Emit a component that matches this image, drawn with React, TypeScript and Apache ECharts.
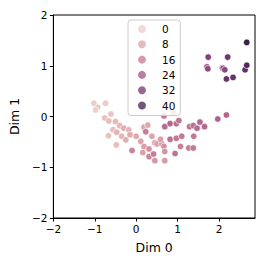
import React, { useEffect, useRef } from "react";
import * as echarts from "echarts";

const dim0 = [
  -1.02, -0.93, -0.98, -0.74, -0.76, -0.61, -0.66, -0.67, -0.5, -0.56, -0.4, -0.47, -0.48, -0.35, -0.3, -0.25,
  -0.18, -0.15, 0.0, -0.1, 0.11, 0.16, 0.19, 0.19, 0.28, 0.23, 0.38, 0.31, 0.31, 0.42, 0.45, 0.45, 0.5, 0.62,
  0.59, 0.67, 0.69, 0.67, 0.69, 0.69, 0.82, 0.82, 0.9, 0.97, 0.97, 0.94, 1.03, 1.07, 1.1, 1.29, 1.27, 1.38,
  1.38, 1.39, 1.47, 1.54, 1.65, 1.97, 2.18,
  1.71, 2.08, 1.74, 1.73, 2.21, 2.1, 2.14, 2.18, 2.34, 2.63, 2.67, 2.67,
];
const dim1 = [
  0.26, 0.18, 0.13, 0.26, -0.03, 0.05, -0.09, -0.38, -0.1, -0.26, -0.18, -0.31, -0.56, -0.39, -0.23, -0.46,
  -0.26, -0.36, -0.39, -0.67, -0.49, -0.71, -0.59, -0.21, -0.17, -0.3, -0.39, -0.64, -0.79, -0.74, -0.87, -0.52,
  -0.54, -0.54, -0.45, 0.01, -0.2, -0.59, -0.69, -0.87, -0.14, -0.45, 0.08, -0.14, -0.43, -0.73, -0.08, -0.59,
  -0.39, -0.2, -0.62, -0.62, -0.18, -0.39, -0.23, -0.11, -0.2, -0.05, 0.03,
  0.98, 0.96, 1.17, 0.94, 1.17, 0.95, 0.92, 0.74, 0.77, 0.92, 1.46, 1.01,
];
const hue = [
  1, 2, 0, 1, 3, 2, 4, 3, 5, 4, 5, 6, 4, 6, 7, 7,
  6, 8, 8, 16, 9, 10, 10, 9, 8, 17, 9, 13, 15, 17, 12, 9,
  10, 11, 10, 18, 21, 13, 12, 11, 22, 20, 8, 20, 18, 19, 19, 16,
  18, 19, 17, 18, 20, 18, 21, 22, 22, 23, 22,
  24, 22, 32, 30, 36, 26, 30, 37, 37, 38, 46, 40,
];
const legendLabels = ["0", "8", "16", "24", "32", "40"];
const legendColors = ["#edd1cb", "#e0aaad", "#ca8199", "#a95e8d", "#814279", "#512b5c"];
const rampColors = ["#edd1cb", "#e0aaad", "#ca8199", "#a95e8d", "#814279", "#512b5c", "#2d1e3e"];
const xTicks = [-2, -1, 0, 1, 2];
const yTicks = [-2, -1, 0, 1, 2];

const FONT = "DejaVu Sans";

export default function App() {
  const ref = useRef<HTMLDivElement>(null);
  useEffect(() => {
    const chart = echarts.init(ref.current!, null, { renderer: "svg" });
    const points = dim0.map((x, i) => [x, dim1[i], hue[i]]);
    const fmt = (v: number) => String(v).replace("-", "\u2212");
    chart.setOption({
      animation: false,
      backgroundColor: "#ffffff",
      grid: {
        left: 52,
        right: 11,
        top: 15,
        bottom: 48,
        show: true,
        borderColor: "#000000",
        borderWidth: 1,
        backgroundColor: "transparent",
      },
      xAxis: {
        type: "value",
        min: -2,
        max: 2.87,
        interval: 1,
        name: "Dim 0",
        nameLocation: "middle",
        nameGap: 23,
        nameTextStyle: { fontFamily: FONT, fontSize: 12.5, color: "#000" },
        axisLine: { show: true, onZero: false, lineStyle: { color: "#000", width: 1 } },
        axisTick: { show: true, length: 3.5, customValues: xTicks, lineStyle: { color: "#000" } },
        axisLabel: {
          customValues: xTicks,
          formatter: fmt,
          margin: 5,
          fontFamily: FONT,
          fontSize: 10.5,
          color: "#000",
        },
        splitLine: { show: false },
      },
      yAxis: {
        type: "value",
        min: -2,
        max: 2,
        interval: 1,
        name: "Dim 1",
        nameLocation: "middle",
        nameGap: 25,
        nameTextStyle: { fontFamily: FONT, fontSize: 12.5, color: "#000" },
        axisLine: { show: true, onZero: false, lineStyle: { color: "#000", width: 1 } },
        axisTick: { show: true, length: 3.5, customValues: yTicks, lineStyle: { color: "#000" } },
        axisLabel: {
          customValues: yTicks,
          formatter: fmt,
          margin: 6,
          fontFamily: FONT,
          fontSize: 10.5,
          color: "#000",
        },
        splitLine: { show: false },
      },
      visualMap: {
        show: false,
        type: "continuous",
        seriesIndex: 0,
        dimension: 2,
        min: 0,
        max: 48,
        inRange: { color: rampColors },
      },
      legend: {
        orient: "vertical",
        left: 128,
        top: 20,
        padding: [3, 5, 4, 10],
        itemGap: 3.3,
        itemWidth: 8,
        itemHeight: 8,
        icon: "circle",
        data: legendLabels,
        textStyle: {
          fontFamily: FONT,
          fontSize: 10.5,
          color: "#000",
          lineHeight: 12,
          padding: [0, 0, 0, 11],
        },
        borderColor: "#cccccc",
        borderWidth: 1,
        borderRadius: 3,
        backgroundColor: "rgba(255,255,255,0.8)",
      },
      series: [
        {
          type: "scatter",
          data: points,
          symbolSize: 6.5,
          itemStyle: { borderColor: "#ffffff", borderWidth: 0.6, opacity: 1 },
          z: 2,
        },
        ...legendLabels.map((name, i) => ({
          type: "scatter",
          name,
          data: [],
          itemStyle: { color: legendColors[i] },
        })),
      ],
    });
    return () => chart.dispose();
  }, []);
  return (
    <div
      ref={ref}
      style={{ position: "fixed", left: 0, top: 0, width: 266, height: 266 }}
    />
  );
}
